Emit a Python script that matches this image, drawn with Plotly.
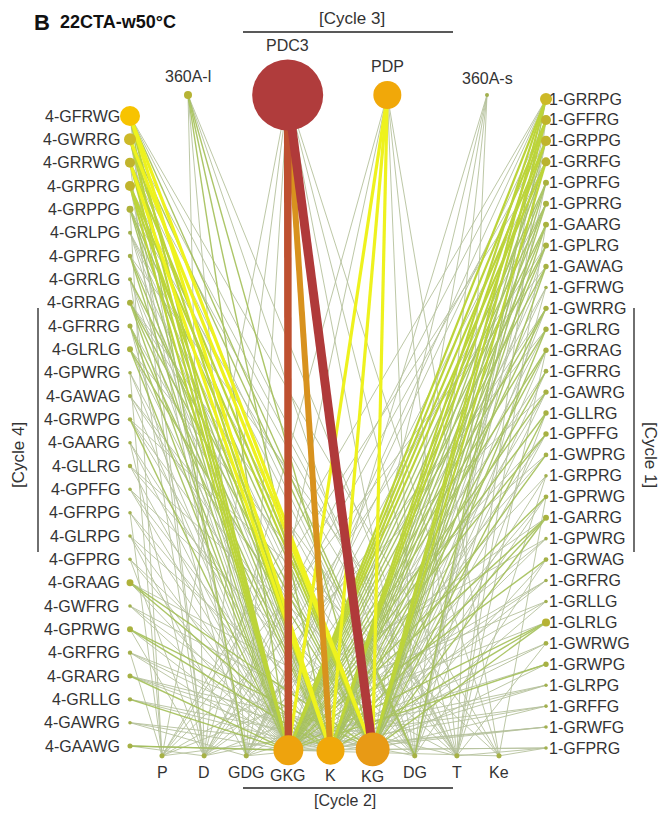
import math
import plotly.graph_objects as go

# ---------------- data ----------------
top_nodes = ["360A-l", "PDC3", "PDP", "360A-s"]
top_abund = [4, 315, 49, 1]

bottom_nodes = ["P", "D", "GDG", "GKG", "K", "KG", "DG", "T", "Ke"]
bottom_abund = [1.6, 1.6, 1.6, 56, 49, 72, 1.6, 1.6, 1.6]

left_nodes = ["4-GFRWG", "4-GWRRG", "4-GRRWG", "4-GRPRG", "4-GRPPG", "4-GRLPG", "4-GPRFG",
              "4-GRRLG", "4-GRRAG", "4-GFRRG", "4-GLRLG", "4-GPWRG", "4-GAWAG", "4-GRWPG",
              "4-GAARG", "4-GLLRG", "4-GPFFG", "4-GFRPG", "4-GLRPG", "4-GFPRG", "4-GRAAG",
              "4-GWFRG", "4-GPRWG", "4-GRFRG", "4-GRARG", "4-GRLLG", "4-GAWRG", "4-GAAWG"]
left_abund = [25, 9, 6.3, 6.3, 3, 1, 1.2, 1, 2.2, 1.6, 2.2, 0.8, 1, 1.2,
              0.8, 1.2, 0.8, 0.8, 0.8, 0.8, 3, 0.8, 2.2, 1.2, 1.6, 1.2, 0.8, 1.6]

right_nodes = ["1-GRRPG", "1-GFFRG", "1-GRPPG", "1-GRRFG", "1-GPRFG", "1-GPRRG", "1-GAARG",
               "1-GPLRG", "1-GAWAG", "1-GFRWG", "1-GWRRG", "1-GRLRG", "1-GRRAG", "1-GFRRG",
               "1-GAWRG", "1-GLLRG", "1-GPFFG", "1-GWPRG", "1-GRPRG", "1-GPRWG", "1-GARRG",
               "1-GPWRG", "1-GRWAG", "1-GRFRG", "1-GRLLG", "1-GLRLG", "1-GWRWG", "1-GRWPG",
               "1-GLRPG", "1-GRFFG", "1-GRWFG", "1-GFPRG"]
right_abund = [9, 6.3, 6.3, 5, 2.2, 2.2, 2.2, 2.2, 1.8, 0.8, 1.8, 1.8, 1.8, 1.4,
               1.8, 1.8, 1.8, 1.4, 0.8, 1.4, 2.2, 0.8, 1.4, 0.8, 0.8, 4, 1.4, 1.8,
               0.8, 0.8, 0.8, 0.8]

# edges: (source, target in cycle 2, weight class)
edges = [
    ("360A-l", "GKG", 2), ("360A-l", "K", 2), ("360A-l", "KG", 2), ("360A-l", "DG", 1),
    ("360A-l", "T", 1), ("360A-l", "D", 1), ("360A-l", "GDG", 1),
    ("PDC3", "GKG", 6), ("PDC3", "K", 5), ("PDC3", "KG", 7), ("PDC3", "GDG", 1),
    ("PDC3", "D", 1), ("PDC3", "DG", 1), ("PDC3", "T", 1), ("PDC3", "Ke", 1), ("PDC3", "P", 1),
    ("PDP", "KG", 4), ("PDP", "K", 4), ("PDP", "GKG", 4), ("PDP", "GDG", 1),
    ("PDP", "DG", 1), ("PDP", "T", 1), ("PDP", "D", 1), ("PDP", "Ke", 1),
    ("360A-s", "GKG", 1), ("360A-s", "K", 1), ("360A-s", "KG", 1), ("360A-s", "DG", 1), ("360A-s", "T", 1),

    ("4-GFRWG", "KG", 4), ("4-GFRWG", "K", 4), ("4-GFRWG", "GKG", 3), ("4-GFRWG", "GDG", 2),
    ("4-GFRWG", "DG", 2), ("4-GFRWG", "T", 1), ("4-GFRWG", "Ke", 1), ("4-GFRWG", "D", 1),
    ("4-GWRRG", "KG", 4), ("4-GWRRG", "K", 3), ("4-GWRRG", "GKG", 3), ("4-GWRRG", "DG", 2),
    ("4-GWRRG", "T", 1), ("4-GWRRG", "GDG", 1),
    ("4-GRRWG", "KG", 3), ("4-GRRWG", "K", 4), ("4-GRRWG", "GKG", 3), ("4-GRRWG", "DG", 1),
    ("4-GRRWG", "T", 1), ("4-GRRWG", "D", 1),
    ("4-GRPRG", "KG", 3), ("4-GRPRG", "K", 3), ("4-GRPRG", "GKG", 3), ("4-GRPRG", "GDG", 1), ("4-GRPRG", "DG", 1),
    ("4-GRPPG", "GKG", 2), ("4-GRPPG", "K", 2), ("4-GRPPG", "KG", 2), ("4-GRPPG", "T", 1), ("4-GRPPG", "P", 1),
    ("4-GRLPG", "GKG", 1), ("4-GRLPG", "K", 1), ("4-GRLPG", "KG", 1), ("4-GRLPG", "DG", 1),
    ("4-GPRFG", "GKG", 2), ("4-GPRFG", "K", 2), ("4-GPRFG", "KG", 1), ("4-GPRFG", "Ke", 1),
    ("4-GRRLG", "GKG", 1), ("4-GRRLG", "K", 1), ("4-GRRLG", "KG", 2), ("4-GRRLG", "D", 1),
    ("4-GRRAG", "GKG", 2), ("4-GRRAG", "K", 2), ("4-GRRAG", "KG", 2), ("4-GRRAG", "DG", 1), ("4-GRRAG", "T", 1),
    ("4-GFRRG", "GKG", 2), ("4-GFRRG", "K", 2), ("4-GFRRG", "KG", 1), ("4-GFRRG", "GDG", 1),
    ("4-GLRLG", "GKG", 2), ("4-GLRLG", "K", 1), ("4-GLRLG", "KG", 2), ("4-GLRLG", "T", 1),
    ("4-GPWRG", "GKG", 1), ("4-GPWRG", "K", 1), ("4-GPWRG", "P", 1),
    ("4-GAWAG", "GKG", 1), ("4-GAWAG", "KG", 1), ("4-GAWAG", "DG", 1),
    ("4-GRWPG", "GKG", 2), ("4-GRWPG", "K", 1), ("4-GRWPG", "KG", 1), ("4-GRWPG", "Ke", 1),
    ("4-GAARG", "GKG", 1), ("4-GAARG", "K", 1), ("4-GAARG", "D", 1),
    ("4-GLLRG", "GKG", 1), ("4-GLLRG", "KG", 1), ("4-GLLRG", "T", 1),
    ("4-GPFFG", "GKG", 1), ("4-GPFFG", "K", 1), ("4-GPFFG", "DG", 1),
    ("4-GFRPG", "GKG", 1), ("4-GFRPG", "K", 1), ("4-GFRPG", "P", 1),
    ("4-GLRPG", "GKG", 1), ("4-GLRPG", "KG", 1), ("4-GLRPG", "GDG", 1),
    ("4-GFPRG", "GKG", 1), ("4-GFPRG", "K", 1), ("4-GFPRG", "D", 1),
    ("4-GRAAG", "K", 2), ("4-GRAAG", "KG", 2), ("4-GRAAG", "GKG", 1), ("4-GRAAG", "T", 1),
    ("4-GWFRG", "GKG", 1), ("4-GWFRG", "K", 1), ("4-GWFRG", "DG", 1),
    ("4-GPRWG", "KG", 2), ("4-GPRWG", "K", 2), ("4-GPRWG", "GKG", 1), ("4-GPRWG", "D", 1),
    ("4-GRFRG", "GKG", 1), ("4-GRFRG", "K", 1), ("4-GRFRG", "KG", 1), ("4-GRFRG", "P", 1),
    ("4-GRARG", "GKG", 2), ("4-GRARG", "K", 1), ("4-GRARG", "KG", 1), ("4-GRARG", "T", 1),
    ("4-GRLLG", "GKG", 2), ("4-GRLLG", "K", 1), ("4-GRLLG", "DG", 1),
    ("4-GAWRG", "GKG", 1), ("4-GAWRG", "KG", 1), ("4-GAWRG", "GDG", 1),
    ("4-GAAWG", "GKG", 2), ("4-GAAWG", "K", 1), ("4-GAAWG", "D", 1), ("4-GAAWG", "Ke", 1),

    ("1-GRRPG", "GKG", 3), ("1-GRRPG", "K", 3), ("1-GRRPG", "KG", 3), ("1-GRRPG", "DG", 2),
    ("1-GRRPG", "GDG", 1), ("1-GRRPG", "P", 1), ("1-GRRPG", "D", 1),
    ("1-GFFRG", "GKG", 3), ("1-GFFRG", "K", 3), ("1-GFFRG", "KG", 3), ("1-GFFRG", "DG", 1),
    ("1-GFFRG", "GDG", 1), ("1-GFFRG", "T", 1),
    ("1-GRPPG", "GKG", 3), ("1-GRPPG", "K", 3), ("1-GRPPG", "KG", 2), ("1-GRPPG", "DG", 1), ("1-GRPPG", "D", 1),
    ("1-GRRFG", "GKG", 3), ("1-GRRFG", "K", 2), ("1-GRRFG", "KG", 3), ("1-GRRFG", "GDG", 1), ("1-GRRFG", "P", 1),
    ("1-GPRFG", "GKG", 2), ("1-GPRFG", "K", 2), ("1-GPRFG", "KG", 2), ("1-GPRFG", "DG", 1),
    ("1-GPRRG", "GKG", 2), ("1-GPRRG", "K", 2), ("1-GPRRG", "KG", 2), ("1-GPRRG", "GDG", 1),
    ("1-GAARG", "GKG", 2), ("1-GAARG", "K", 2), ("1-GAARG", "KG", 2), ("1-GAARG", "T", 1),
    ("1-GPLRG", "GKG", 2), ("1-GPLRG", "K", 2), ("1-GPLRG", "KG", 1), ("1-GPLRG", "D", 1),
    ("1-GAWAG", "GKG", 2), ("1-GAWAG", "K", 1), ("1-GAWAG", "KG", 2), ("1-GAWAG", "P", 1),
    ("1-GFRWG", "GKG", 1), ("1-GFRWG", "K", 1), ("1-GFRWG", "DG", 1),
    ("1-GWRRG", "GKG", 2), ("1-GWRRG", "K", 2), ("1-GWRRG", "KG", 1), ("1-GWRRG", "GDG", 1),
    ("1-GRLRG", "GKG", 2), ("1-GRLRG", "K", 1), ("1-GRLRG", "KG", 2), ("1-GRLRG", "D", 1),
    ("1-GRRAG", "GKG", 2), ("1-GRRAG", "K", 2), ("1-GRRAG", "KG", 1), ("1-GRRAG", "T", 1),
    ("1-GFRRG", "GKG", 1), ("1-GFRRG", "K", 2), ("1-GFRRG", "KG", 1),
    ("1-GAWRG", "GKG", 2), ("1-GAWRG", "K", 1), ("1-GAWRG", "KG", 1), ("1-GAWRG", "P", 1),
    ("1-GLLRG", "GKG", 2), ("1-GLLRG", "KG", 2), ("1-GLLRG", "DG", 1),
    ("1-GPFFG", "GKG", 2), ("1-GPFFG", "K", 1), ("1-GPFFG", "KG", 1), ("1-GPFFG", "GDG", 1),
    ("1-GWPRG", "GKG", 1), ("1-GWPRG", "K", 2), ("1-GWPRG", "D", 1),
    ("1-GRPRG", "GKG", 1), ("1-GRPRG", "KG", 1), ("1-GRPRG", "T", 1),
    ("1-GPRWG", "GKG", 2), ("1-GPRWG", "K", 1), ("1-GPRWG", "KG", 1), ("1-GPRWG", "Ke", 1),
    ("1-GARRG", "GKG", 2), ("1-GARRG", "K", 2), ("1-GARRG", "KG", 2), ("1-GARRG", "D", 1),
    ("1-GPWRG", "GKG", 1), ("1-GPWRG", "K", 1), ("1-GPWRG", "P", 1),
    ("1-GRWAG", "GKG", 2), ("1-GRWAG", "KG", 1), ("1-GRWAG", "DG", 1),
    ("1-GRFRG", "GKG", 1), ("1-GRFRG", "K", 1), ("1-GRFRG", "GDG", 1),
    ("1-GRLLG", "GKG", 1), ("1-GRLLG", "KG", 1), ("1-GRLLG", "P", 1),
    ("1-GLRLG", "GKG", 2), ("1-GLRLG", "K", 2), ("1-GLRLG", "KG", 2), ("1-GLRLG", "D", 1),
    ("1-GWRWG", "GKG", 1), ("1-GWRWG", "K", 1), ("1-GWRWG", "T", 1),
    ("1-GRWPG", "GKG", 2), ("1-GRWPG", "KG", 1), ("1-GRWPG", "GDG", 1),
    ("1-GLRPG", "GKG", 1), ("1-GLRPG", "K", 1), ("1-GLRPG", "D", 1),
    ("1-GRFFG", "GKG", 1), ("1-GRFFG", "KG", 1), ("1-GRFFG", "P", 1),
    ("1-GRWFG", "GKG", 1), ("1-GRWFG", "K", 1), ("1-GRWFG", "GDG", 1),
    ("1-GFPRG", "GKG", 1), ("1-GFPRG", "KG", 1), ("1-GFPRG", "Ke", 1), ("1-GFPRG", "T", 1),
]

cycle_labels = ["[Cycle 1]", "[Cycle 2]", "[Cycle 3]", "[Cycle 4]"]
panel_letter = "B"
panel_title = "22CTA-w50°C"

# ---------------- layout of the network (page-pixel coordinates) ----------------
def diam(a):
    return 4.0 * math.sqrt(a)

pos = {}
abund = {}
LEFT_X, LEFT_Y0, LEFT_Y1 = 130, 116, 746
RIGHT_X, RIGHT_Y0, RIGHT_Y1 = 546, 99, 748
TOP_X0, TOP_X1, TOP_Y = 188, 487, 95
BOT_X0, BOT_X1, BOT_Y = 162, 499, 757

for i, (n, a) in enumerate(zip(left_nodes, left_abund)):
    pos[n] = (LEFT_X, LEFT_Y0 + i * (LEFT_Y1 - LEFT_Y0) / (len(left_nodes) - 1))
    abund[n] = a
for i, (n, a) in enumerate(zip(right_nodes, right_abund)):
    pos[n] = (RIGHT_X, RIGHT_Y0 + i * (RIGHT_Y1 - RIGHT_Y0) / (len(right_nodes) - 1))
    abund[n] = a
for i, (n, a) in enumerate(zip(top_nodes, top_abund)):
    pos[n] = (TOP_X0 + i * (TOP_X1 - TOP_X0) / (len(top_nodes) - 1), TOP_Y)
    abund[n] = a
for i, (n, a) in enumerate(zip(bottom_nodes, bottom_abund)):
    r = diam(a) / 2
    pos[n] = (BOT_X0 + i * (BOT_X1 - BOT_X0) / (len(bottom_nodes) - 1), BOT_Y - 0.45 * r)
    abund[n] = a

edge_style = {
    1: ("#aebb92", 0.9),
    2: ("#a4c058", 1.4),
    3: ("#bcd43a", 2.2),
    4: ("#eef21e", 3.2),
    5: ("#d8921e", 6.0),
    6: ("#be5030", 7.5),
    7: ("#b03a3a", 9.0),
}

fig = go.Figure()

for w in sorted(edge_style):
    xs, ys = [], []
    for s, t, ew in edges:
        if ew != w:
            continue
        x0, y0 = pos[s]
        x1, y1 = pos[t]
        xs += [x0, x1, None]
        ys += [y0, y1, None]
    if xs:
        col, lw = edge_style[w]
        fig.add_trace(go.Scatter(x=xs, y=ys, mode="lines",
                                 line=dict(color=col, width=lw),
                                 hoverinfo="skip", showlegend=False,
                                 opacity=0.9 if w <= 2 else 1.0))

all_nodes = left_nodes + right_nodes + bottom_nodes + top_nodes
cmax = math.log(max(abund.values()))
node_colorscale = [
    [0.0, "#a2b04e"], [0.15, "#aab23e"], [0.3, "#bdb32e"], [0.42, "#d4bc24"],
    [0.56, "#f7c300"], [0.66, "#f3ab06"], [0.74, "#e99b14"], [0.82, "#d07a22"],
    [1.0, "#b03c3c"],
]
fig.add_trace(go.Scatter(
    x=[pos[n][0] for n in all_nodes],
    y=[pos[n][1] for n in all_nodes],
    mode="markers",
    marker=dict(size=[diam(abund[n]) for n in all_nodes],
                color=[max(0.0, math.log(abund[n])) for n in all_nodes],
                colorscale=node_colorscale, cmin=0, cmax=cmax,
                opacity=1, line=dict(width=0)),
    text=all_nodes, hoverinfo="text", showlegend=False,
))

FONT = "Liberation Sans, Arial, sans-serif"
TXT = "#333333"
LBL = 16
ann = []
for n in left_nodes:
    x, y = pos[n]
    ann.append(dict(x=x - 8, y=y, text=n, xanchor="right", yanchor="middle",
                    showarrow=False, font=dict(family=FONT, size=LBL, color=TXT)))
for n in right_nodes:
    x, y = pos[n]
    ann.append(dict(x=x + 1, y=y, text=n, xanchor="left", yanchor="middle",
                    showarrow=False, font=dict(family=FONT, size=LBL, color=TXT)))
for n in top_nodes:
    x, y = pos[n]
    r = diam(abund[n]) / 2
    ann.append(dict(x=x, y=y - r - 4, text=n, xanchor="center", yanchor="bottom",
                    showarrow=False, font=dict(family=FONT, size=LBL, color=TXT)))
for n in bottom_nodes:
    x, y = pos[n]
    r = diam(abund[n]) / 2
    ann.append(dict(x=x, y=772 + 0.25 * r, text=n, xanchor="center", yanchor="middle",
                    showarrow=False, font=dict(family=FONT, size=LBL, color=TXT)))

# panel title
ann.append(dict(x=32, y=22, text="<b>%s</b>" % panel_letter, xanchor="left", yanchor="middle",
                showarrow=False, font=dict(family=FONT, size=22, color="#111111")))
ann.append(dict(x=58, y=22, text="<b>%s</b>" % panel_title, xanchor="left", yanchor="middle",
                showarrow=False, font=dict(family=FONT, size=18, color="#111111")))

# cycle labels
ann.append(dict(x=352, y=18, text=cycle_labels[2], xanchor="center", yanchor="middle",
                showarrow=False, font=dict(family=FONT, size=17, color=TXT)))
ann.append(dict(x=345, y=800, text=cycle_labels[1], xanchor="center", yanchor="middle",
                showarrow=False, font=dict(family=FONT, size=16, color=TXT)))
ann.append(dict(x=18, y=455, text=cycle_labels[3], xanchor="center", yanchor="middle",
                textangle=-90, showarrow=False, font=dict(family=FONT, size=17, color=TXT)))
ann.append(dict(x=651, y=455, text=cycle_labels[0], xanchor="center", yanchor="middle",
                textangle=90, showarrow=False, font=dict(family=FONT, size=17, color=TXT)))

bracket = dict(color="#222222", width=1.3)
shapes = [
    dict(type="line", xref="x", yref="y", x0=243, x1=453, y0=32, y1=32, line=bracket),
    dict(type="line", xref="x", yref="y", x0=243, x1=453, y0=788, y1=788, line=bracket),
    dict(type="line", xref="x", yref="y", x0=38, x1=38, y0=308, y1=552, line=bracket),
    dict(type="line", xref="x", yref="y", x0=634, x1=634, y0=308, y1=552, line=bracket),
]

# The page body has an 8 px margin: the figure fills the remaining 654x802 area,
# and the axes map page pixels 8..662 / 8..810 one-to-one.
BODY = 8
W, H = 670, 818
fig.update_layout(
    width=W - 2 * BODY, height=H - 2 * BODY,
    margin=dict(l=0, r=0, t=0, b=0),
    paper_bgcolor="white", plot_bgcolor="white",
    xaxis=dict(range=[BODY, W - BODY], visible=False, fixedrange=True),
    yaxis=dict(range=[H - BODY, BODY], visible=False, fixedrange=True),
    annotations=ann, shapes=shapes, showlegend=False,
)

fig.write_html("out.html")
